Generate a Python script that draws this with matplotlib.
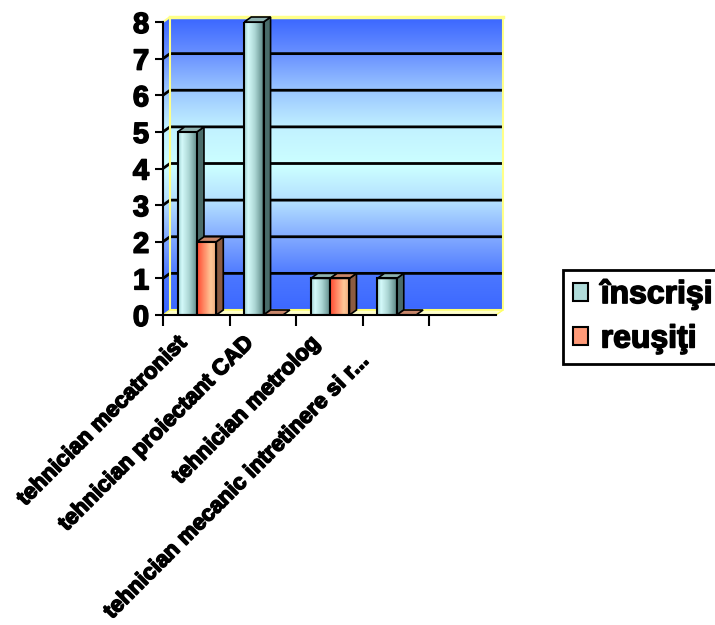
import matplotlib.pyplot as plt
import matplotlib.patheffects as pe
import numpy as np
from matplotlib.colors import LinearSegmentedColormap
from matplotlib.patches import Polygon, Patch

plt.rcParams['font.family'] = ['Liberation Sans', 'DejaVu Sans']

categorii = ['tehnician mecatronist', 'tehnician proiectant CAD',
             'tehnician metrolog', 'tehnician mecanic intretinere si r...']
inscrisi = [5, 8, 1, 1]
reusiti = [2, 0, 1, 0]
serii = ['înscrişi', 'reuşiţi']
valori_y = [0, 1, 2, 3, 4, 5, 6, 7, 8]

W, H = 715, 625
fig = plt.figure(figsize=(W / 100, H / 100), dpi=100)
ax = fig.add_axes([163 / W, 1 - 315 / H, (496 - 163) / W, (315 - 22) / H])

# heavier glyphs
gros = [pe.withStroke(linewidth=1.1, foreground='black')]

nslot = 5
ymax = 8
# 3d depth of walls and bars, in data units
dx = 7 / ((496 - 163) / nslot)
dy = 5 / ((315 - 22) / ymax)

# back wall + left side wall with vertical gradient
wall_cmap = LinearSegmentedColormap.from_list('wall', [
    (0.0, '#3a66ff'), (0.125, '#4a76ff'), (0.25, '#7ea6ff'),
    (0.375, '#b2deff'), (0.5, '#ccffff'), (0.625, '#c2f2ff'),
    (0.75, '#9cc8ff'), (0.875, '#6a92ff'), (1.0, '#3a66ff')])
grad = np.linspace(0, 1, 256).reshape(-1, 1)
wall = Polygon([(0, 0), (dx, dy), (nslot + dx, dy), (nslot + dx, ymax + dy),
                (dx, ymax + dy), (0, ymax)], closed=True, transform=ax.transData)
im = ax.imshow(grad, cmap=wall_cmap, origin='lower', aspect='auto',
               extent=(0, nslot + dx, 0, ymax + dy), zorder=0, interpolation='bilinear')
im.set_clip_path(wall)
im.set_clip_box(fig.bbox)

# gridlines on the walls
for k in range(1, ymax):
    ax.plot([0, dx, nslot + dx], [k, k + dy, k + dy], color='black', lw=2,
            zorder=0.5, clip_on=False, solid_capstyle='butt')
ax.plot([0, dx, dx, nslot + dx, nslot + dx], [ymax, ymax + dy, dy, dy, ymax + dy],
        color='#ffff88', lw=1.5, zorder=0.6, clip_on=False)
ax.plot([dx, nslot + dx], [ymax + dy, ymax + dy], color='#ffff88', lw=2.5,
        zorder=0.6, clip_on=False)

# floor
floor = Polygon([(0, 0), (nslot, 0), (nslot + dx, dy), (dx, dy)], closed=True,
                facecolor='#ffffcc', edgecolor='#ffff66', lw=1, zorder=0.8, clip_on=False)
ax.add_patch(floor)

cyan_front = LinearSegmentedColormap.from_list('c', [
    (0, '#9ccccc'), (0.2, '#d4fafa'), (0.55, '#acd6d4'), (1, '#5a8684')])
orange_front = LinearSegmentedColormap.from_list('o', [
    (0, '#ff4a30'), (0.35, '#ff8a66'), (0.7, '#ffc898'), (1, '#f0a878')])
stil = [
    dict(cmap=cyan_front, side='#4a6c6a', top='#8eb2b0', legend='#b0dcda'),
    dict(cmap=orange_front, side='#8c5c42', top='#c8866a', legend='#ff9a78'),
]

width = 0.29
x = np.arange(len(categorii))
offs = [0.22, 0.51]
hgrad = np.linspace(0, 1, 64).reshape(1, -1)

for j, vals in enumerate([inscrisi, reusiti]):
    s = stil[j]
    z = 2 + j
    bars = ax.bar(x + offs[j], vals, width=width, align='edge', facecolor='none',
                  edgecolor='black', lw=1.5, zorder=z + 0.3)
    for b, v in zip(bars, vals):
        x0 = b.get_x()
        x1 = x0 + b.get_width()
        if v > 0:
            g = ax.imshow(hgrad, cmap=s['cmap'], aspect='auto', extent=(x0, x1, 0, v),
                          zorder=z, interpolation='bilinear')
            g.set_clip_path(b)
            side = Polygon([(x1, 0), (x1 + dx, dy), (x1 + dx, v + dy), (x1, v)], closed=True,
                           facecolor=s['side'], edgecolor='black', lw=1.2, zorder=z + 0.1,
                           clip_on=False)
            ax.add_patch(side)
        top = Polygon([(x0, v), (x1, v), (x1 + dx, v + dy), (x0 + dx, v + dy)], closed=True,
                      facecolor=s['top'], edgecolor='black', lw=1.2, zorder=z + 0.2,
                      clip_on=False)
        ax.add_patch(top)

ax.set_xlim(0, nslot)
ax.set_ylim(0, ymax)

for sp in ['top', 'right']:
    ax.spines[sp].set_visible(False)
for sp in ['left', 'bottom']:
    ax.spines[sp].set_linewidth(1.5)
    ax.spines[sp].set_zorder(5)

ax.set_yticks(valori_y)
ax.set_yticklabels([str(v) for v in valori_y], fontsize=21, fontweight='bold',
                   path_effects=gros)
ax.tick_params(axis='y', length=6, width=1.5, pad=4)
ax.set_xticks(range(nslot))
ax.set_xticklabels([])
ax.tick_params(axis='x', length=8, width=1.5)

# rotated category labels
for i, name in enumerate(categorii):
    sx, sy = (-4, -13) if i < 3 else (-17, -26)
    ax.annotate(name, xy=(i + 0.5, 0), xycoords=('data', 'axes fraction'),
                xytext=(sx, sy), textcoords='offset points', rotation=45,
                ha='right', va='top', fontsize=16, fontweight='bold', path_effects=gros)

handles = [Patch(facecolor=s['legend'], edgecolor='black', lw=1.5) for s in stil]
leg = fig.legend(handles, serii, loc='upper left', bbox_to_anchor=(563 / W, 1 - 270 / H),
                 prop=dict(weight='bold', size=23), frameon=True, fancybox=False,
                 edgecolor='black', framealpha=1, borderpad=0.3, handletextpad=0.4,
                 labelspacing=0.45, handlelength=0.48, handleheight=0.48, borderaxespad=0)
leg.get_frame().set_linewidth(2)
for t in leg.get_texts():
    t.set_path_effects(gros)

fig.savefig('out.png', dpi=100)
